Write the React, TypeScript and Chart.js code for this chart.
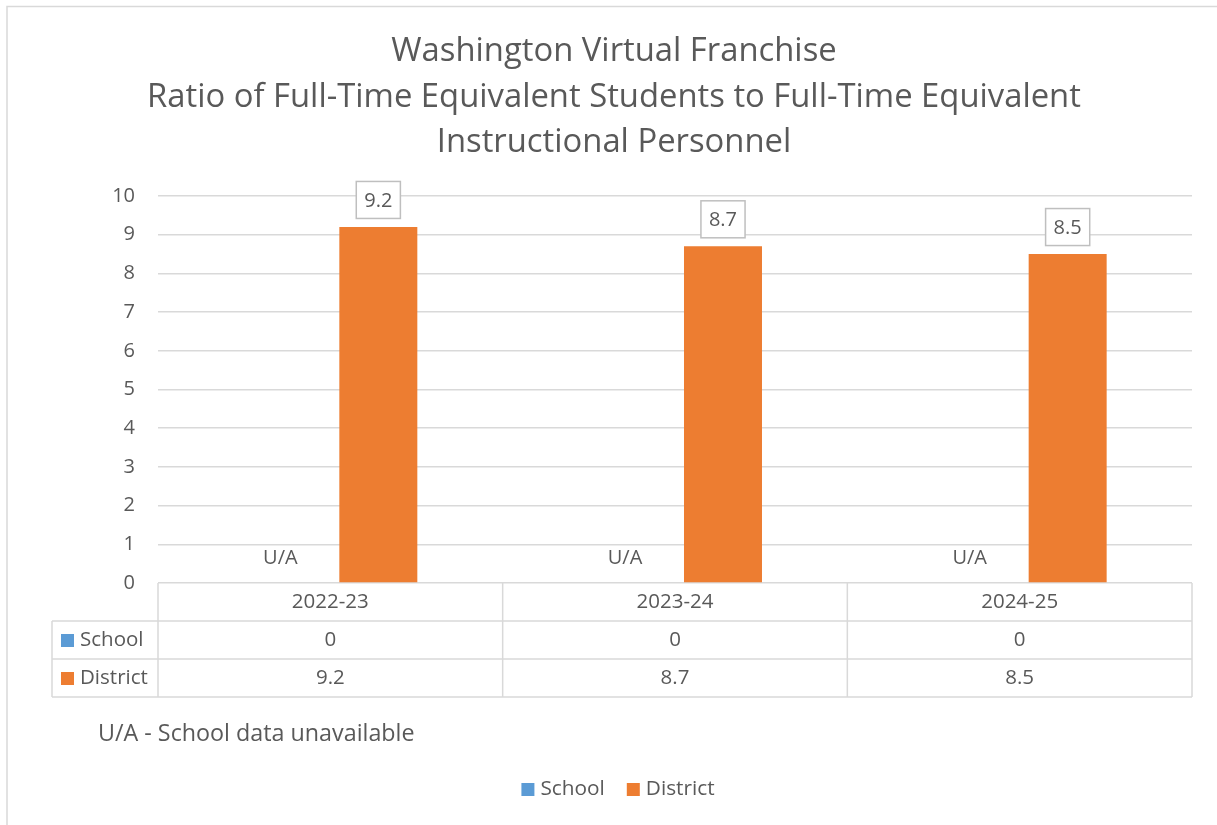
import React, { useEffect, useRef } from "react";
import { Chart, registerables } from "chart.js";

Chart.register(...registerables);

const titleLines = [
  "Washington Virtual Franchise",
  "Ratio of Full-Time Equivalent Students to Full-Time Equivalent",
  "Instructional Personnel",
];
const categories = ["2022-23", "2023-24", "2024-25"];
const seriesNames = ["School", "District"];
const schoolValues = [0, 0, 0];
const districtValues = [9.2, 8.7, 8.5];
const schoolBarLabels = ["U/A", "U/A", "U/A"];
const schoolTableValues = ["0", "0", "0"];
const districtTableValues = ["9.2", "8.7", "8.5"];
const footnote = "U/A - School data unavailable";

const BLUE = "#5B9BD5";
const ORANGE = "#ED7D31";
const TEXT = "#595959";
const GRID = "#d9d9d9";
const FONT = '"Open Sans", "Noto Sans", sans-serif';

const decorPlugin = {
  id: "decor",
  beforeDraw(chart: any) {
    const ctx = chart.ctx;
    ctx.save();
    ctx.fillStyle = "#ffffff";
    ctx.fillRect(0, 0, chart.width, chart.height);
    ctx.strokeStyle = GRID;
    ctx.lineWidth = 1.5;
    ctx.strokeRect(7, 6.5, chart.width + 20, chart.height + 20);
    ctx.restore();
  },
  afterDatasetsDraw(chart: any) {
    const ctx = chart.ctx;
    ctx.save();
    ctx.font = `20px ${FONT}`;
    ctx.textAlign = "center";
    ctx.textBaseline = "middle";
    const m0 = chart.getDatasetMeta(0);
    m0.data.forEach((bar: any, i: number) => {
      ctx.fillStyle = TEXT;
      ctx.fillText(schoolBarLabels[i], bar.x - 2, bar.y - 25);
    });
    const m1 = chart.getDatasetMeta(1);
    m1.data.forEach((bar: any, i: number) => {
      const txt = String(districtValues[i]);
      const w = ctx.measureText(txt).width + 16;
      const h = 37;
      const cy = bar.y - 27;
      ctx.fillStyle = "#ffffff";
      ctx.fillRect(bar.x - w / 2, cy - h / 2, w, h);
      ctx.strokeStyle = "#bfbfbf";
      ctx.lineWidth = 1.5;
      ctx.strokeRect(bar.x - w / 2, cy - h / 2, w, h);
      ctx.fillStyle = TEXT;
      ctx.fillText(txt, bar.x, cy + 1);
    });
    ctx.restore();
  },
  afterDraw(chart: any) {
    const ctx = chart.ctx;
    const { left, right, bottom } = chart.chartArea;
    const n = categories.length;
    const colW = (right - left) / n;
    const rowH = 38;
    const keyLeft = 52;
    ctx.save();
    ctx.fillStyle = TEXT;
    ctx.font = `32.8px ${FONT}`;
    ctx.textAlign = "center";
    ctx.textBaseline = "middle";
    const cx = 614;
    titleLines.forEach((t, i) => ctx.fillText(t, cx, 52 + i * 45.5));

    ctx.strokeStyle = GRID;
    ctx.lineWidth = 1.5;
    ctx.beginPath();
    for (let i = 0; i <= n; i++) {
      const x = left + i * colW;
      ctx.moveTo(x, bottom);
      ctx.lineTo(x, bottom + 3 * rowH);
    }
    for (let r = 1; r <= 3; r++) {
      ctx.moveTo(keyLeft, bottom + r * rowH);
      ctx.lineTo(right, bottom + r * rowH);
    }
    ctx.moveTo(keyLeft, bottom + rowH);
    ctx.lineTo(keyLeft, bottom + 3 * rowH);
    ctx.stroke();

    ctx.font = `20.5px ${FONT}`;
    ctx.fillStyle = TEXT;
    ctx.textAlign = "center";
    categories.forEach((c, i) => {
      const x = left + (i + 0.5) * colW;
      ctx.fillText(c, x, bottom + rowH * 0.5);
      ctx.fillText(schoolTableValues[i], x, bottom + rowH * 1.5);
      ctx.fillText(districtTableValues[i], x, bottom + rowH * 2.5);
    });
    const keyColors = [BLUE, ORANGE];
    ctx.textAlign = "left";
    seriesNames.forEach((s, r) => {
      const cy = bottom + rowH * (1.5 + r);
      ctx.fillStyle = keyColors[r];
      ctx.fillRect(61, cy - 6, 13, 13);
      ctx.fillStyle = TEXT;
      ctx.fillText(s, 80, cy);
    });

    ctx.font = `23.3px ${FONT}`;
    ctx.fillStyle = TEXT;
    ctx.fillText(footnote, 98, 734);

    ctx.font = `20.8px ${FONT}`;
    const widths = seriesNames.map((s) => ctx.measureText(s).width);
    const sq = 13, gapIn = 6, gapOut = 22;
    const total = widths.reduce((a, w) => a + sq + gapIn + w, 0) + gapOut;
    let x = 618 - total / 2;
    const ly = 789;
    seriesNames.forEach((s, i) => {
      ctx.fillStyle = keyColors[i];
      ctx.fillRect(x, ly - 6, sq, sq);
      x += sq + gapIn;
      ctx.fillStyle = TEXT;
      ctx.fillText(s, x, ly);
      x += widths[i] + gapOut;
    });
    ctx.restore();
  },
};

export default function App() {
  const ref = useRef<HTMLCanvasElement | null>(null);
  useEffect(() => {
    document.body.style.margin = "0";
    if (!ref.current) return;
    const chart = new Chart(ref.current, {
      type: "bar",
      data: {
        labels: categories,
        datasets: [
          { label: seriesNames[0], data: schoolValues, backgroundColor: BLUE },
          { label: seriesNames[1], data: districtValues, backgroundColor: ORANGE },
        ],
      },
      options: {
        animation: false,
        responsive: false,
        events: [],
        layout: { padding: { left: 0, top: 196, right: 25, bottom: 242 } },
        datasets: {
          bar: { categoryPercentage: 0.557, barPercentage: 0.8125 },
        } as any,
        plugins: {
          legend: { display: false },
          title: { display: false },
          tooltip: { enabled: false },
        },
        scales: {
          x: { display: false },
          y: {
            min: 0,
            max: 10,
            afterFit(scale: any) {
              scale.width = 158;
            },
            ticks: {
              stepSize: 1,
              padding: 23,
              color: TEXT,
              font: { family: FONT, size: 20 },
            },
            grid: { color: GRID, lineWidth: 1.5, drawTicks: false },
            border: { display: false },
          },
        },
      },
      plugins: [decorPlugin],
    });
    return () => chart.destroy();
  }, []);
  return (
    <div style={{ width: 1217, height: 825 }}>
      <canvas ref={ref} width={1217} height={825} />
    </div>
  );
}
